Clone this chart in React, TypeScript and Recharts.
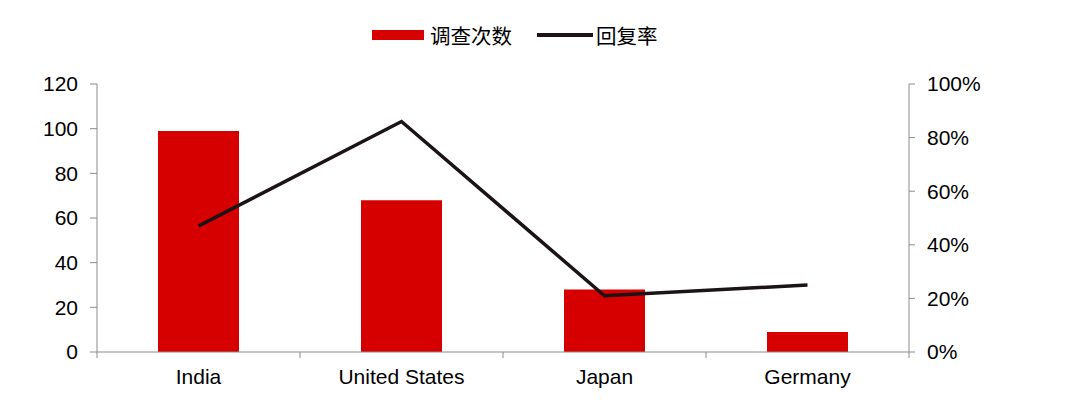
import React from 'react';
import { ComposedChart, Bar, Line, XAxis, YAxis } from 'recharts';

const categories = ['India', 'United States', 'Japan', 'Germany'];
const surveyCounts = [99, 68, 28, 9];
const responseRates = [0.47, 0.86, 0.21, 0.25];
const leftTicks = [0, 20, 40, 60, 80, 100, 120];
const rightTicks = [0, 0.2, 0.4, 0.6, 0.8, 1];

const data = categories.map((c, i) => ({ name: c, count: surveyCounts[i], rate: responseRates[i] }));

const FONT = '"Liberation Sans", Arial, "Noto Sans CJK SC", sans-serif';
const AXIS = '#8c8c8c';
const RED = '#d70000';
const DARK = '#1c1414';

const XTick = (props: any) => {
  const { x, y, payload, index } = props;
  const off = payload.offset || 0;
  const last = index === categories.length - 1;
  return (
    <g>
      <line x1={x - off} x2={x - off} y1={y} y2={y + 6} stroke={AXIS} strokeWidth={1} />
      {last && <line x1={x + off} x2={x + off} y1={y} y2={y + 6} stroke={AXIS} strokeWidth={1} />}
      <text x={x} y={y + 32} textAnchor="middle" fill="#000" fontSize={21} fontFamily={FONT}>
        {payload.value}
      </text>
    </g>
  );
};

const LegendBox = () => (
  <div
    style={{
      position: 'absolute',
      left: 364,
      top: 14,
      height: 26,
      display: 'flex',
      alignItems: 'center',
      fontFamily: FONT,
      fontSize: 20.5,
      color: '#000',
      whiteSpace: 'nowrap',
    }}
  >
    <div style={{ width: 52, height: 10, background: RED, marginRight: 6 }} />
    <span style={{ marginRight: 25 }}>调查次数</span>
    <div style={{ width: 56, height: 3.5, background: DARK, marginRight: 3 }} />
    <span>回复率</span>
  </div>
);

export default function App() {
  return (
    <div style={{ position: 'relative', width: 1064, height: 395, background: '#fff' }}>
      <ComposedChart width={1064} height={395} data={data} margin={{ top: 76, right: 83, bottom: 11, left: 29 }}>
        <XAxis
          dataKey="name"
          xAxisId="x"
          stroke={AXIS}
          tickLine={false}
          tickSize={0}
          tickMargin={0}
          height={40}
          interval={0}
          tick={<XTick />}
        />
        <YAxis
          yAxisId="left"
          domain={[0, 120]}
          ticks={leftTicks}
          stroke={AXIS}
          tickSize={7}
          tickMargin={12}
          width={60}
          tick={{ fill: '#000', fontSize: 21, fontFamily: FONT }}
        />
        <YAxis
          yAxisId="right"
          orientation="right"
          domain={[0, 1]}
          ticks={rightTicks}
          stroke={AXIS}
          tickSize={6}
          tickMargin={12}
          width={80}
          tickFormatter={(v: number) => `${Math.round(v * 100)}%`}
          tick={{ fill: '#000', fontSize: 21, fontFamily: FONT, textAnchor: 'start' }}
        />
        <Bar xAxisId="x" yAxisId="left" dataKey="count" fill={RED} barSize={81} isAnimationActive={false} />
        <Line xAxisId="x" yAxisId="right" dataKey="rate" stroke={DARK} strokeWidth={3.5} dot={false} type="linear" isAnimationActive={false} />
      </ComposedChart>
      <LegendBox />
    </div>
  );
}
